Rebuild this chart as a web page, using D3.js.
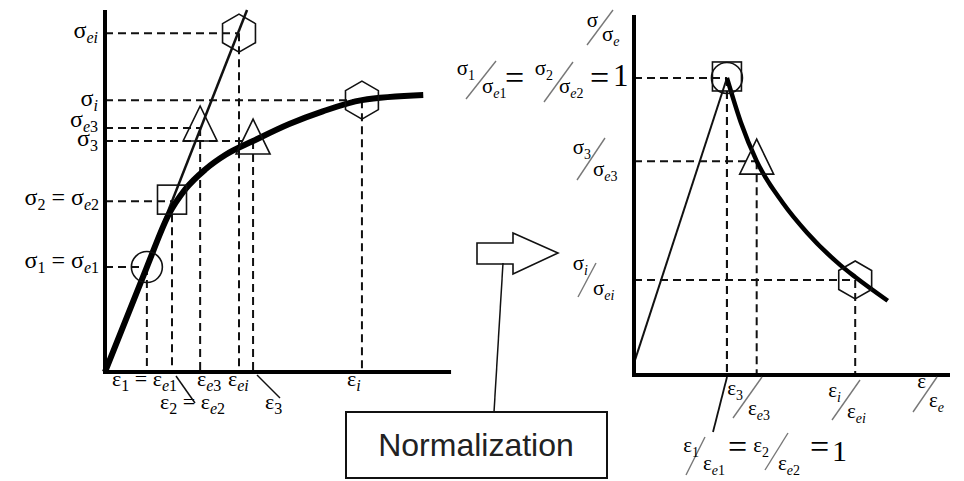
<!DOCTYPE html>
<html>
<head>
<meta charset="utf-8">
<script src="https://cdn.jsdelivr.net/npm/d3@7"></script>
<style>
  body { margin: 0; background: #fff; }
  svg { display: block; }
</style>
</head>
<body>
<svg width="964" height="481"></svg>
<script>
// ---- data ----
// left panel: true stress-strain curve and elastic line
const curveStrain = [0, 1.25, 1.9, 2.4, 3.0, 3.6, 4.42, 5.5, 6.5, 7.67, 9.5];
const curveStress = [0, 2.9, 4.35, 5.05, 5.6, 6.0, 6.38, 6.85, 7.2, 7.51, 7.65];
const elasticStrain = [0, 4.24];
const elasticStress = [0, 10.0];

// marked points: 1, 2, 3, i
const pointNames = ["1", "2", "3", "i"];
const pointShapes = ["circle", "square", "triangle", "hexagon"];
const trueStrain = [1.25, 2.0, 4.42, 7.67];     // eps_1 .. eps_i
const trueStress = [2.9, 4.72, 6.38, 7.51];     // sig_1 .. sig_i
const elStrain = [1.25, 2.0, 2.84, 4.0];        // eps_e1 .. eps_ei
const elStress = [2.9, 4.72, 6.74, 9.36];       // sig_e1 .. sig_ei

// right panel: normalised curve
const normStrain = [1, 1, 1.32, 2.38];          // eps/eps_e at 1, 2, 3, i
const normStress = [1, 1, 0.72, 0.32];          // sig/sig_e at 1, 2, 3, i
const normCurveX = [1, 1.15, 1.32, 1.6, 1.86, 2.22, 2.38, 2.73];
const normCurveY = [1, 0.85, 0.72, 0.58, 0.48, 0.37, 0.33, 0.25];
const normLineX = [0, 1];
const normLineY = [0.04, 1];

const SERIF = "'Liberation Serif', 'Times New Roman', serif";
const SANS = "'Liberation Sans', Arial, sans-serif";

const svg = d3.select("svg");

// scales
const xL = d3.scaleLinear().domain([0, 10]).range([105, 440]);
const yL = d3.scaleLinear().domain([0, 10]).range([372, 10]);
const xR = d3.scaleLinear().domain([0, 3.4]).range([634, 950]);
const yR = d3.scaleLinear().domain([0, 1.212]).range([375, 15]);

// text with _{sub} parts
function mathText(g, x, y, src, size, anchor, subSize) {
  const t = g.append("text")
    .attr("x", x).attr("y", y)
    .attr("font-family", SERIF)
    .attr("font-size", size)
    .attr("text-anchor", anchor || "start");
  const ss = subSize || size * 0.66;
  let off = 0;
  src.split(/(_\{[^}]*\})/).filter(s => s).forEach(tok => {
    const isSub = tok.startsWith("_{");
    const txt = isSub ? tok.slice(2, -1) : tok;
    const target = isSub ? size * 0.22 : 0;
    if (!isSub) {
      t.append("tspan").attr("dy", target - off).text(txt);
    } else {
      txt.match(/[a-z]+|[^a-z]+/g).forEach((run, k) => {
        t.append("tspan")
          .attr("dy", k === 0 ? target - off : 0)
          .attr("font-size", ss)
          .attr("font-style", /[a-z]/.test(run) ? "italic" : null)
          .text(run);
      });
    }
    off = target;
  });
  return t;
}

// slash fraction label
function frac(g, f, size) {
  g.append("line")
    .attr("x1", f.slash[0]).attr("y1", f.slash[1])
    .attr("x2", f.slash[2]).attr("y2", f.slash[3])
    .attr("stroke", "#777").attr("stroke-width", 1.4);
  mathText(g, f.numAt[0], f.numAt[1], f.num, size, "end", 14);
  mathText(g, f.denAt[0], f.denAt[1], f.den, size, "start", 14);
}

function marker(g, shape, cx, cy) {
  let p;
  if (shape === "circle") {
    p = g.append("circle").attr("cx", cx).attr("cy", cy).attr("r", 15.5);
  } else if (shape === "square") {
    p = g.append("rect").attr("x", cx - 14.5).attr("y", cy - 16).attr("width", 29).attr("height", 29);
  } else if (shape === "triangle") {
    p = g.append("path").attr("d", `M${cx},${cy - 22}L${cx + 17},${cy + 13}L${cx - 17},${cy + 13}Z`);
  } else {
    const pts = d3.range(6).map(k => {
      const a = (-90 + k * 60) * Math.PI / 180;
      return [cx + 19 * Math.cos(a), cy + 19 * Math.sin(a)];
    });
    p = g.append("path").attr("d", "M" + pts.join("L") + "Z");
  }
  p.attr("fill", "none").attr("stroke", "#111").attr("stroke-width", 1.6);
}

function dashed(g, x1, y1, x2, y2) {
  g.append("line")
    .attr("x1", x1).attr("y1", y1).attr("x2", x2).attr("y2", y2)
    .attr("stroke", "#111").attr("stroke-width", 2)
    .attr("stroke-dasharray", "8,5");
}

// ================= left panel =================
const L = svg.append("g");

// guides
const guideL = [];
pointNames.forEach((n, i) => {
  guideL.push([trueStrain[i], trueStress[i]]);
  if (elStrain[i] !== trueStrain[i]) guideL.push([elStrain[i], elStress[i]]);
});
guideL.forEach(([e, s]) => {
  dashed(L, xL(0), yL(s), xL(e), yL(s));
  dashed(L, xL(e), yL(s), xL(e), yL(0));
});

// elastic line (thin)
L.append("path")
  .attr("d", d3.line()(elasticStrain.map((e, i) => [xL(e), yL(elasticStress[i])])))
  .attr("stroke", "#111").attr("stroke-width", 2.5).attr("fill", "none");

// true curve (thick)
L.append("path")
  .attr("d", d3.line().curve(d3.curveMonotoneX)(curveStrain.map((e, i) => [xL(e), yL(curveStress[i])])))
  .attr("stroke", "#000").attr("stroke-width", 6).attr("fill", "none");

// axes
L.append("line").attr("x1", xL(0)).attr("y1", yL(0) + 2).attr("x2", xL(0)).attr("y2", yL(10))
  .attr("stroke", "#000").attr("stroke-width", 4);
L.append("line").attr("x1", xL(0) - 2).attr("y1", yL(0)).attr("x2", xL(10.33)).attr("y2", yL(0))
  .attr("stroke", "#000").attr("stroke-width", 4);

// markers
pointNames.forEach((n, i) => {
  marker(L, pointShapes[i], xL(trueStrain[i]), yL(trueStress[i]));
  if (elStrain[i] !== trueStrain[i]) marker(L, pointShapes[i], xL(elStrain[i]), yL(elStress[i]));
});

// y labels
mathText(L, 98, 38, "σ_{ei}", 24, "end", 16);
mathText(L, 98, 106, "σ_{i}", 24, "end", 16);
mathText(L, 98, 127, "σ_{e3}", 24, "end", 16);
mathText(L, 98, 146, "σ_{3}", 24, "end", 16);
mathText(L, 99, 205, "σ_{2} = σ_{e2}", 24, "end", 16);
mathText(L, 99, 268, "σ_{1} = σ_{e1}", 24, "end", 16);

// x labels
mathText(L, 112, 386, "ε_{1} = ε_{e1}", 22, "start", 16);
mathText(L, 197, 386, "ε_{e3}", 22, "start", 16);
mathText(L, 228, 386, "ε_{ei}", 22, "start", 16);
mathText(L, 347, 386, "ε_{i}", 22, "start", 16);
mathText(L, 160, 409, "ε_{2} = ε_{e2}", 22, "start", 16);
mathText(L, 265, 409, "ε_{3}", 22, "start", 16);
L.append("line").attr("x1", 176).attr("y1", 376).attr("x2", 195).attr("y2", 403)
  .attr("stroke", "#111").attr("stroke-width", 1.5);
L.append("line").attr("x1", 257).attr("y1", 375).attr("x2", 280).attr("y2", 398)
  .attr("stroke", "#111").attr("stroke-width", 1.5);

// ================= right panel =================
const R = svg.append("g");

normStrain.forEach((e, i) => {
  dashed(R, xR(0), yR(normStress[i]), xR(e), yR(normStress[i]));
  dashed(R, xR(e), yR(normStress[i]), xR(e), yR(0));
});

R.append("path")
  .attr("d", d3.line()(normLineX.map((e, i) => [xR(e), yR(normLineY[i])])))
  .attr("stroke", "#111").attr("stroke-width", 2).attr("fill", "none");

R.append("path")
  .attr("d", d3.line().curve(d3.curveMonotoneX)(normCurveX.map((e, i) => [xR(e), yR(normCurveY[i])])))
  .attr("stroke", "#000").attr("stroke-width", 4.5).attr("fill", "none");

R.append("line").attr("x1", xR(0)).attr("y1", yR(0) + 2).attr("x2", xR(0)).attr("y2", yR(1.212))
  .attr("stroke", "#000").attr("stroke-width", 4);
R.append("line").attr("x1", xR(0) - 2).attr("y1", yR(0)).attr("x2", xR(3.4)).attr("y2", yR(0))
  .attr("stroke", "#000").attr("stroke-width", 4);

pointNames.forEach((n, i) => {
  marker(R, pointShapes[i], xR(normStrain[i]), yR(normStress[i]));
});

// y labels (fractions)
const yFracs = [
  { num: "σ", den: "σ_{e}", slash: [587, 45, 613, 10], numAt: [598, 27], denAt: [602, 41] },
  { num: "σ_{1}", den: "σ_{e1}", slash: [466, 99, 496, 61], numAt: [475, 75], denAt: [482, 93] },
  { num: "σ_{2}", den: "σ_{e2}", slash: [544, 102, 573, 62], numAt: [553, 75], denAt: [559, 93] },
  { num: "σ_{3}", den: "σ_{e3}", slash: [577, 180, 605, 138], numAt: [591, 154], denAt: [593, 176] },
  { num: "σ_{i}", den: "σ_{ei}", slash: [578, 297, 596, 263], numAt: [588, 270], denAt: [593, 295] }
];
yFracs.forEach(f => frac(R, f, 21));
R.append("text").attr("x", 505).attr("y", 89).attr("font-family", SERIF).attr("font-size", 34).text("=");
R.append("text").attr("x", 590).attr("y", 89).attr("font-family", SERIF).attr("font-size", 34).text("=");
R.append("text").attr("x", 613).attr("y", 86).attr("font-family", SERIF).attr("font-size", 31).text("1");

// x labels (fractions)
const xFracs = [
  { num: "ε_{3}", den: "ε_{e3}", slash: [733, 418, 762, 377], numAt: [743, 395], denAt: [748, 415] },
  { num: "ε_{i}", den: "ε_{ei}", slash: [832, 420, 860, 380], numAt: [841, 397], denAt: [847, 418] },
  { num: "ε", den: "ε_{e}", slash: [913, 412, 937, 377], numAt: [926, 388], denAt: [929, 407] },
  { num: "ε_{1}", den: "ε_{e1}", slash: [686, 475, 705, 437], numAt: [699, 452], denAt: [703, 470] },
  { num: "ε_{2}", den: "ε_{e2}", slash: [765, 470, 788, 433], numAt: [769, 452], denAt: [778, 470] }
];
xFracs.forEach(f => frac(R, f, 21));
R.append("text").attr("x", 728).attr("y", 458).attr("font-family", SERIF).attr("font-size", 34).text("=");
R.append("text").attr("x", 810).attr("y", 458).attr("font-family", SERIF).attr("font-size", 34).text("=");
R.append("text").attr("x", 832).attr("y", 461).attr("font-family", SERIF).attr("font-size", 30).text("1");
R.append("line").attr("x1", 727).attr("y1", 377).attr("x2", 713).attr("y2", 432)
  .attr("stroke", "#111").attr("stroke-width", 1.8);

// ================= arrow + box =================
svg.append("path")
  .attr("d", "M477,243L513,243L513,233L558,253L513,274L513,264L477,264Z")
  .attr("fill", "#fff").attr("stroke", "#111").attr("stroke-width", 1.6);
svg.append("line").attr("x1", 503).attr("y1", 263).attr("x2", 494).attr("y2", 412)
  .attr("stroke", "#111").attr("stroke-width", 1.5);
svg.append("rect").attr("x", 346).attr("y", 412).attr("width", 261).attr("height", 66)
  .attr("fill", "#fff").attr("stroke", "#111").attr("stroke-width", 2);
svg.append("text").attr("x", 476).attr("y", 456)
  .attr("text-anchor", "middle").attr("font-family", SANS).attr("font-size", 32)
  .attr("fill", "#222").text("Normalization");
</script>
</body>
</html>
